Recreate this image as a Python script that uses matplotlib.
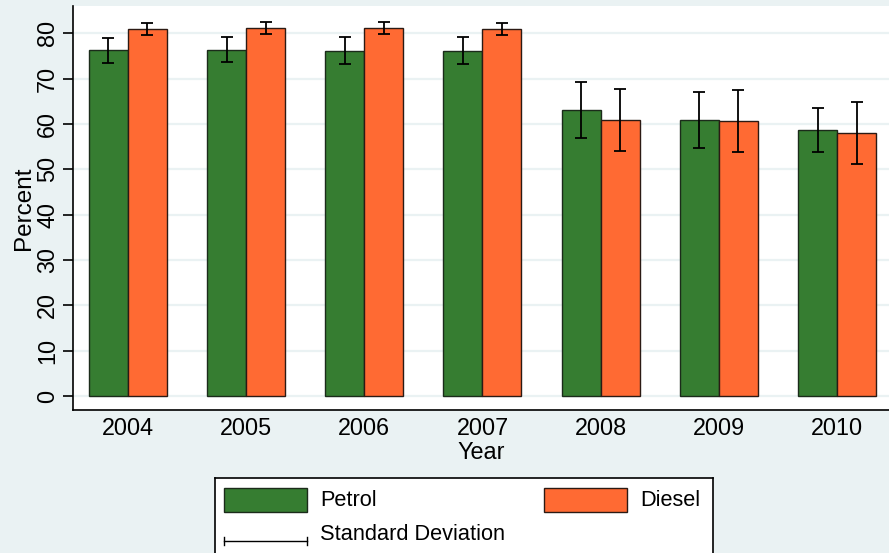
import matplotlib.pyplot as plt
import numpy as np
from matplotlib.patches import Rectangle

plt.rcParams['font.family'] = ['Liberation Sans', 'DejaVu Sans']

years = ["2004", "2005", "2006", "2007", "2008", "2009", "2010"]
petrol = [76.2, 76.4, 76.1, 76.1, 63.1, 60.8, 58.6]
petrol_sd = [2.8, 2.7, 3.0, 3.0, 6.2, 6.2, 4.9]
diesel = [80.9, 81.1, 81.2, 80.9, 60.9, 60.6, 58.0]
diesel_sd = [1.4, 1.35, 1.35, 1.35, 6.8, 6.9, 6.9]

bg = "#eaf2f3"
green = "#367d31"
orange = "#ff6a33"
fs = 16.8
fs_leg = 15.7

fig = plt.figure(figsize=(8.89, 5.53), dpi=100, facecolor=bg)
ax = fig.add_axes([73 / 889, 1 - 410 / 553, 1 - 73 / 889, (410 - 6) / 553])
ax.set_facecolor("white")

x = np.arange(len(years))
w = 0.33
ax.bar(x - w / 2, petrol, w, color=green, edgecolor="#1b2b1a", linewidth=1.0, zorder=2)
ax.bar(x + w / 2, diesel, w, color=orange, edgecolor="#2b1a14", linewidth=1.0, zorder=2)
ax.errorbar(x - w / 2, petrol, yerr=petrol_sd, fmt="none", ecolor="black",
            elinewidth=1.3, capsize=4, capthick=1.3, zorder=3)
ax.errorbar(x + w / 2, diesel, yerr=diesel_sd, fmt="none", ecolor="black",
            elinewidth=1.3, capsize=4, capthick=1.3, zorder=3)

ax.set_xlim(-0.465, 6.44)
ax.set_ylim(-3.1, 86)
ax.set_yticks(range(0, 81, 10))
ax.yaxis.grid(True, color=bg, linewidth=1.6, zorder=0)
ax.set_axisbelow(True)
ax.set_xticks(x)
ax.set_xticklabels(years, fontsize=fs)
ax.tick_params(axis="x", length=0, pad=5)
ax.tick_params(axis="y", length=7, width=1.2, labelsize=fs, pad=3)
for lab in ax.get_yticklabels():
    lab.set_rotation(90)
    lab.set_va("center")
ax.set_xlabel("Year", fontsize=fs, labelpad=1)
ax.set_ylabel("Percent", fontsize=17.5, labelpad=1)
for s in ["top", "right"]:
    ax.spines[s].set_visible(False)
ax.spines["left"].set_linewidth(1.2)
ax.spines["bottom"].set_linewidth(1.2)

# legend box drawn in pixel units
lg = fig.add_axes([215 / 889, 0, (713 - 215) / 889, (553 - 478) / 553])
lg.set_xlim(0, 498)
lg.set_ylim(75, 0)
lg.set_facecolor("white")
lg.set_xticks([])
lg.set_yticks([])
lg.spines["bottom"].set_visible(False)
for s in ["top", "left", "right"]:
    lg.spines[s].set_linewidth(1.2)
lg.add_patch(Rectangle((9, 10), 83, 24, facecolor=green, edgecolor="#1b2b1a", linewidth=1.0))
lg.add_patch(Rectangle((329, 10), 83, 24, facecolor=orange, edgecolor="#2b1a14", linewidth=1.0))
lg.text(105, 22.5, "Petrol", fontsize=fs_leg, va="center")
lg.text(425, 22.5, "Diesel", fontsize=fs_leg, va="center")
lg.plot([9, 92], [63, 63], color="black", linewidth=1.0)
lg.plot([9, 9], [59, 67], color="black", linewidth=1.0)
lg.plot([92, 92], [59, 67], color="black", linewidth=1.0)
lg.text(105, 56, "Standard Deviation", fontsize=fs_leg, va="center")

fig.savefig("out.png", dpi=100, facecolor=bg)
